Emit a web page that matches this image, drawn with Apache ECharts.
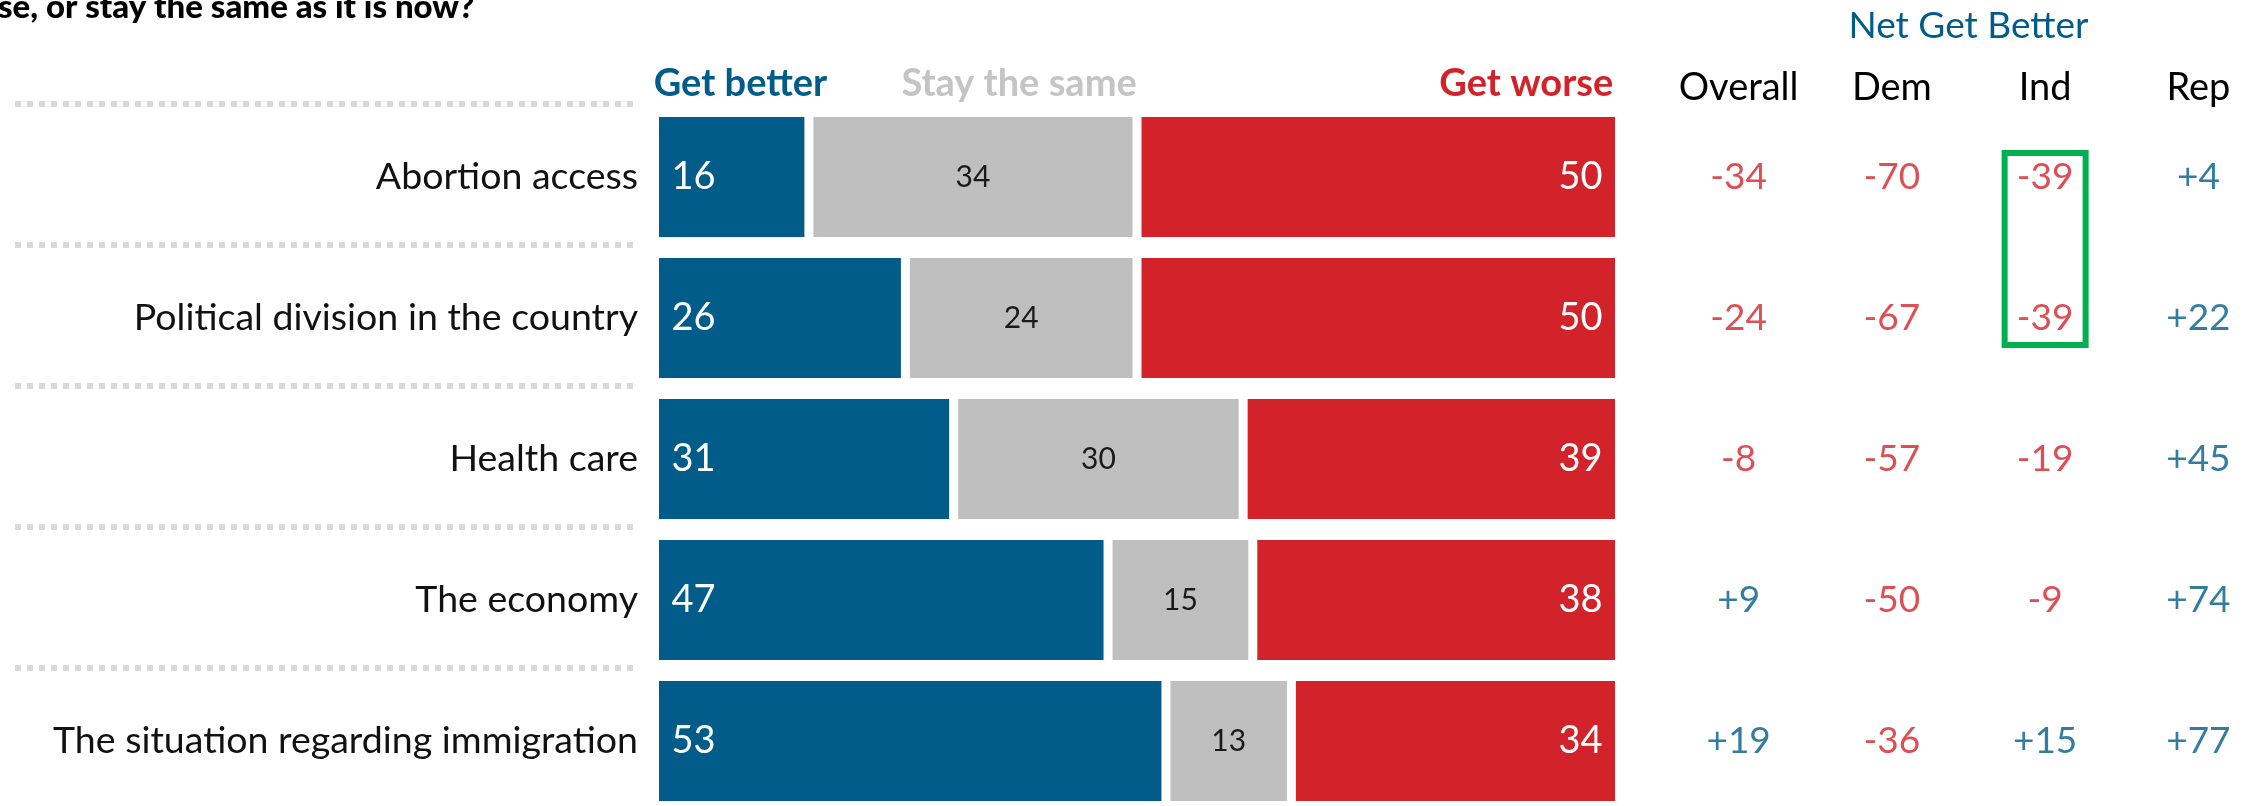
<!DOCTYPE html>
<html><head><meta charset="utf-8">
<script src="https://cdn.jsdelivr.net/npm/echarts@6/dist/echarts.min.js"></script>
<style>html,body{margin:0;padding:0;background:#fff;overflow:hidden}#c{width:2320px;height:840px}</style>
</head><body><div id="c"></div>
<script>
const categories = ['Abortion access','Political division in the country','Health care','The economy','The situation regarding immigration'];
const getBetter = [16, 26, 31, 47, 53];
const staySame = [34, 24, 30, 15, 13];
const getWorse = [50, 50, 39, 38, 34];
const seriesNames = ['Get better', 'Stay the same', 'Get worse'];
const netColumns = ['Overall', 'Dem', 'Ind', 'Rep'];
const netOverall = [-34, -24, -8, 9, 19];
const netDem = [-70, -67, -57, -50, -36];
const netInd = [-39, -39, -19, -9, 15];
const netRep = [4, 22, 45, 74, 77];
const titleText = 'se, or stay the same as it is now?';
const netTitle = 'Net Get Better';
const highlightColumn = 'Ind';
const highlightRows = ['Abortion access', 'Political division in the country'];

const BLUE = '#015c89', RED = '#d2232a', GRAY = '#bfbfbf', FONT = 'Lato';
const netByColumn = [netOverall, netDem, netInd, netRep];
const tableData = [];
netColumns.forEach((col, ci) => {
  categories.forEach((cat, ri) => {
    const v = netByColumn[ci][ri];
    tableData.push({ value: [col, cat, v], label: { color: v < 0 ? RED : BLUE } });
  });
});

const chart = echarts.init(document.getElementById('c'), null, { renderer: 'canvas' });
const BW = 4.5;
const barBase = { type: 'bar', stack: 'all', xAxisIndex: 0, yAxisIndex: 0, barWidth: 129, silent: true };
chart.setOption({
  animation: false,
  backgroundColor: '#fff',
  textStyle: { fontFamily: FONT },
  grid: [
    { left: 654.5, top: 106.5, width: 965, height: 705 },
    { left: 15, top: 104, width: 619, height: 705 },
    { left: 1662, top: 106.5, width: 613, height: 705 }
  ],
  xAxis: [
    { type: 'value', gridIndex: 0, min: 0, max: 100, show: false },
    { type: 'value', gridIndex: 1, min: 0, max: 1, show: false },
    { type: 'category', gridIndex: 2, data: netColumns, position: 'top',
      axisLine: { show: false }, axisTick: { show: false }, splitLine: { show: false },
      axisLabel: { interval: 0, fontSize: 38, color: '#000', fontFamily: FONT, margin: -1, lineHeight: 40 } }
  ],
  yAxis: [
    { type: 'category', gridIndex: 0, data: categories, inverse: true,
      axisLine: { show: false }, axisTick: { show: false },
      axisLabel: { interval: 0, fontSize: 37.5, color: '#111', fontFamily: FONT, margin: 16.5 } },
    { type: 'category', gridIndex: 1, data: categories, inverse: true,
      axisLine: { show: false }, axisTick: { show: false }, axisLabel: { show: false },
      splitLine: { show: true, showMaxLine: false, lineStyle: { color: '#d9d9d9', width: 6, type: [6, 6] } } },
    { type: 'category', gridIndex: 2, data: categories, inverse: true, show: false }
  ],
  series: [
    Object.assign({}, barBase, { name: seriesNames[0], data: getBetter,
      itemStyle: { color: BLUE, borderColor: '#fff', borderWidth: BW },
      label: { show: true, position: 'insideLeft', distance: 17, color: '#fff', fontSize: 38, fontFamily: FONT } }),
    Object.assign({}, barBase, { name: seriesNames[1], data: staySame,
      itemStyle: { color: GRAY, borderColor: '#fff', borderWidth: BW },
      label: { show: true, position: 'inside', color: '#1a1a1a', fontSize: 30, fontFamily: FONT } }),
    Object.assign({}, barBase, { name: seriesNames[2], data: getWorse,
      itemStyle: { color: RED, borderColor: '#fff', borderWidth: BW },
      label: { show: true, position: 'insideRight', distance: 17, color: '#fff', fontSize: 38, fontFamily: FONT } }),
    { type: 'scatter', xAxisIndex: 2, yAxisIndex: 2, symbolSize: 1, silent: true,
      itemStyle: { color: 'transparent' }, data: tableData,
      label: { show: true, position: 'inside', fontSize: 37, fontFamily: FONT,
        formatter: p => (p.value[2] > 0 ? '+' : '') + p.value[2] } }
  ]
});

// Header texts and highlight box placed through the library's coordinate conversion
const x0 = chart.convertToPixel({ xAxisIndex: 0 }, 0) + BW / 2;
const xEnd = chart.convertToPixel({ xAxisIndex: 0 }, 100) - BW / 2;
const xStayEnd = chart.convertToPixel({ xAxisIndex: 0 }, getBetter[0] + staySame[0]) - BW / 2;
const c1 = chart.convertToPixel({ seriesIndex: 3 }, [highlightColumn, highlightRows[0]]);
const c2 = chart.convertToPixel({ seriesIndex: 3 }, [highlightColumn, highlightRows[1]]);
const colLeft = chart.convertToPixel({ xAxisIndex: 2 }, netColumns[1]);
const colRight = chart.convertToPixel({ xAxisIndex: 2 }, netColumns[2]);
const netCenter = (colLeft + colRight) / 2;
const hdrY = 84;
chart.setOption({
  graphic: [
    { type: 'text', left: -2, top: -9, style: { text: titleText, fontSize: 33, fontWeight: 900, fontFamily: FONT, fill: '#000' } },
    { type: 'text', x: x0 - 3, y: hdrY, style: { text: seriesNames[0], fontSize: 38, fontWeight: 'bold', fontFamily: FONT, fill: BLUE, textAlign: 'left', textVerticalAlign: 'middle' } },
    { type: 'text', x: xStayEnd + 2, y: hdrY, style: { text: seriesNames[1], fontSize: 38, fontWeight: 'bold', fontFamily: FONT, fill: '#c4c4c4', textAlign: 'right', textVerticalAlign: 'middle' } },
    { type: 'text', x: xEnd - 4, y: hdrY, style: { text: seriesNames[2], fontSize: 38, fontWeight: 'bold', fontFamily: FONT, fill: RED, textAlign: 'right', textVerticalAlign: 'middle' } },
    { type: 'text', x: netCenter, y: 26, style: { text: netTitle, fontSize: 37, fontFamily: FONT, fill: BLUE, textAlign: 'center', textVerticalAlign: 'middle' } },
    { type: 'rect', shape: { x: c1[0] - 40.5, y: c1[1] - 24, width: 81, height: (c2[1] + 27) - (c1[1] - 24) },
      style: { fill: 'none', stroke: '#00b050', lineWidth: 6 } }
  ]
});
</script>
</body></html>
